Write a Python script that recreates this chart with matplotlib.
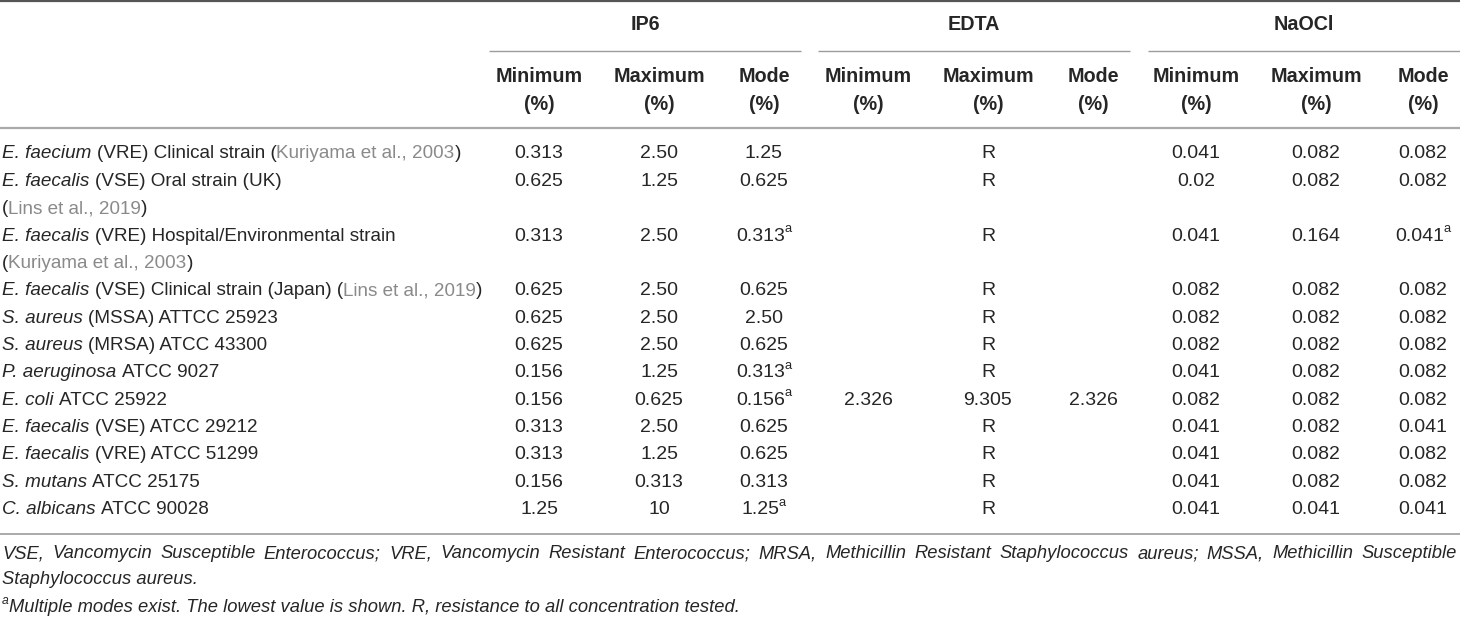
import matplotlib
matplotlib.use("Agg")
import matplotlib.pyplot as plt
from matplotlib.font_manager import FontProperties

# --- table content ---
species = ["E. faecium", "E. faecalis", "E. faecalis", "E. faecalis", "S. aureus", "S. aureus",
           "P. aeruginosa", "E. coli", "E. faecalis", "E. faecalis", "S. mutans", "C. albicans"]
strain = [" (VRE) Clinical strain (", " (VSE) Oral strain (UK)", " (VRE) Hospital/Environmental strain",
          " (VSE) Clinical strain (Japan) (", " (MSSA) ATTCC 25923", " (MRSA) ATCC 43300",
          " ATCC 9027", " ATCC 25922", " (VSE) ATCC 29212", " (VRE) ATCC 51299",
          " ATCC 25175", " ATCC 90028"]
citation = ["Kuriyama et al., 2003", "Lins et al., 2019", "Kuriyama et al., 2003", "Lins et al., 2019",
            None, None, None, None, None, None, None, None]
cite_on_next_line = [False, True, True, False, False, False, False, False, False, False, False, False]

groups = ["IP6", "EDTA", "NaOCl"]
sub_headers = ["Minimum\n(%)", "Maximum\n(%)", "Mode\n(%)"]

ip6_min = ["0.313", "0.625", "0.313", "0.625", "0.625", "0.625", "0.156", "0.156", "0.313", "0.313", "0.156", "1.25"]
ip6_max = ["2.50", "1.25", "2.50", "2.50", "2.50", "2.50", "1.25", "0.625", "2.50", "1.25", "0.313", "10"]
ip6_mode = ["1.25", "0.625", "0.313", "0.625", "2.50", "0.625", "0.313", "0.156", "0.625", "0.625", "0.313", "1.25"]
ip6_mode_multi = [False, False, True, False, False, False, True, True, False, False, False, True]

edta_min = ["", "", "", "", "", "", "", "2.326", "", "", "", ""]
edta_max = ["R", "R", "R", "R", "R", "R", "R", "9.305", "R", "R", "R", "R"]
edta_mode = ["", "", "", "", "", "", "", "2.326", "", "", "", ""]

naocl_min = ["0.041", "0.02", "0.041", "0.082", "0.082", "0.082", "0.041", "0.082", "0.041", "0.041", "0.041", "0.041"]
naocl_max = ["0.082", "0.082", "0.164", "0.082", "0.082", "0.082", "0.082", "0.082", "0.082", "0.082", "0.082", "0.041"]
naocl_mode = ["0.082", "0.082", "0.041", "0.082", "0.082", "0.082", "0.082", "0.082", "0.041", "0.082", "0.082", "0.041"]
naocl_mode_multi = [False, False, True, False, False, False, False, False, False, False, False, False]

footnote_1 = ("VSE, Vancomycin Susceptible Enterococcus; VRE, Vancomycin Resistant Enterococcus; "
              "MRSA, Methicillin Resistant Staphylococcus aureus; MSSA, Methicillin Susceptible")
footnote_2 = "Staphylococcus aureus."
footnote_3 = "Multiple modes exist. The lowest value is shown. R, resistance to all concentration tested."

# --- layout ---
W, H = 1460, 617
FONT = "Liberation Sans"
FS = 13.6      # row labels
FS_V = 14.0    # numbers
FS_H = 14.2    # bold headers
FS_F = 13.2    # footnotes
TXT = "#262626"
GREY = "#8a8a8a"
RULE = "#9c9c9c"

col_x = [539, 659, 764, 868, 988, 1093, 1196, 1316, 1423]
group_span = [(489, 801), (818, 1130), (1148, 1460)]
y_group = 25
y_group_line = 51
y_sub = [77, 104]
y_head_rule = 128
y_first = 154
line_h = 27.35
y_bottom_rule = 534
y_foot = [554, 580, 607]

fig = plt.figure(figsize=(W / 100, H / 100), dpi=100)
ax = fig.add_axes([0, 0, 1, 1])
ax.set_xlim(0, W)
ax.set_ylim(H, 0)
ax.axis("off")
renderer = fig.canvas.get_renderer()


def prop(style="normal", weight="normal", size=FS):
    return FontProperties(family=FONT, style=style, weight=weight, size=size)


def width(s, fp):
    if not s:
        return 0.0
    w, h, d = renderer.get_text_width_height_descent(s, fp, ismath=False)
    return w


def space_w(fp):
    return width("a a", fp) - width("aa", fp)


def draw_run(x, y, s, fp, color):
    lead = len(s) - len(s.lstrip(" "))
    trail = len(s) - len(s.rstrip(" "))
    core = s.strip(" ")
    x += lead * space_w(fp)
    if core:
        ax.text(x, y, core, fontproperties=fp, color=color, ha="left", va="center")
        x += width(core, fp)
    x += trail * space_w(fp)
    return x


def draw_value(xc, y, s, sup=False):
    fp = prop(size=FS_V)
    fps = prop(size=FS_V * 0.66)
    wb = width(s, fp)
    ws = width("a", fps) if sup else 0
    x0 = xc - (wb + ws) / 2
    ax.text(x0, y, s, fontproperties=fp, color=TXT, ha="left", va="center")
    if sup:
        ax.text(x0 + wb - 0.5, y - 7, "a", fontproperties=fps, color=TXT, ha="left", va="center")


# rules
ax.plot([0, W], [1, 1], color="#555555", lw=1.6, solid_capstyle="butt")
for (a, b) in group_span:
    ax.plot([a, b], [y_group_line, y_group_line], color=RULE, lw=1.0, solid_capstyle="butt")
ax.plot([0, W], [y_head_rule, y_head_rule], color="#aaaaaa", lw=1.6, solid_capstyle="butt")
ax.plot([0, W], [y_bottom_rule, y_bottom_rule], color=RULE, lw=1.2, solid_capstyle="butt")

# headers
for g, (a, b) in zip(groups, group_span):
    ax.text((a + b) / 2, y_group, g, fontproperties=prop(weight="bold", size=FS_H), color=TXT,
            ha="center", va="center")
for i, xc in enumerate(col_x):
    top, bot = sub_headers[i % 3].split("\n")
    ax.text(xc, y_sub[0], top, fontproperties=prop(weight="bold", size=FS_H), color=TXT, ha="center", va="center")
    ax.text(xc, y_sub[1], bot, fontproperties=prop(weight="bold", size=FS_H), color=TXT, ha="center", va="center")

# body
line = 0
for r in range(len(species)):
    y = y_first + line * line_h
    x = draw_run(2, y, species[r], prop(style="italic"), TXT)
    x = draw_run(x, y, strain[r], prop(), TXT)
    if citation[r] is not None:
        if cite_on_next_line[r]:
            line += 1
            y2 = y_first + line * line_h
            x2 = draw_run(2, y2, "(", prop(), TXT)
            x2 = draw_run(x2, y2, citation[r], prop(), GREY)
            draw_run(x2, y2, ")", prop(), TXT)
        else:
            x = draw_run(x, y, citation[r], prop(), GREY)
            draw_run(x, y, ")", prop(), TXT)

    draw_value(col_x[0], y, ip6_min[r])
    draw_value(col_x[1], y, ip6_max[r])
    draw_value(col_x[2], y, ip6_mode[r], ip6_mode_multi[r])
    draw_value(col_x[3], y, edta_min[r])
    draw_value(col_x[4], y, edta_max[r])
    draw_value(col_x[5], y, edta_mode[r])
    draw_value(col_x[6], y, naocl_min[r])
    draw_value(col_x[7], y, naocl_max[r])
    draw_value(col_x[8], y, naocl_mode[r], naocl_mode_multi[r])
    line += 1

# footnotes (first line justified)
fpi = prop(style="italic", size=FS_F)
words = footnote_1.split(" ")
ww = [width(w_, fpi) for w_ in words]
left, right = 2, 1457
gap = (right - left - sum(ww)) / (len(words) - 1)
x = left
for w_, wd in zip(words, ww):
    ax.text(x, y_foot[0], w_, fontproperties=fpi, color=TXT, ha="left", va="center")
    x += wd + gap
ax.text(2, y_foot[1], footnote_2, fontproperties=fpi, color=TXT, ha="left", va="center")
fps = prop(style="italic", size=FS_F * 0.66)
ax.text(2, y_foot[2] - 6, "a", fontproperties=fps, color=TXT, ha="left", va="center")
ax.text(2 + width("a", fps) + 0.5, y_foot[2], footnote_3, fontproperties=fpi, color=TXT, ha="left", va="center")

fig.savefig("out.png", dpi=100)
